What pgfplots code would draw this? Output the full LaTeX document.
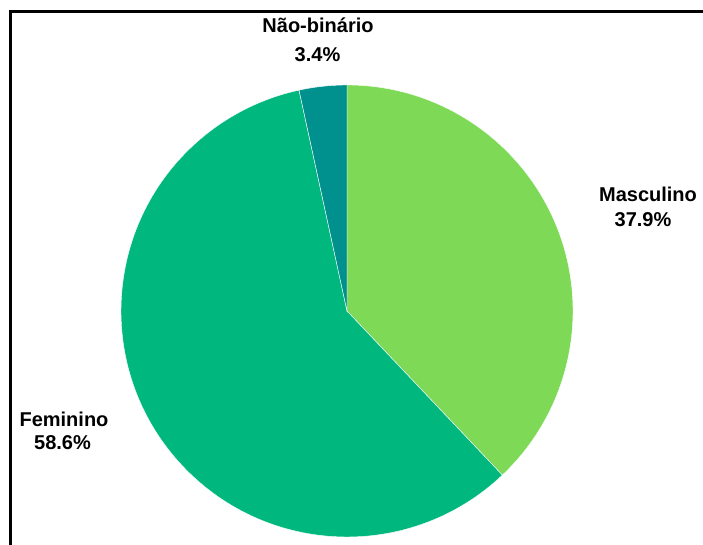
\documentclass[border=0pt]{standalone}
\usepackage{fontspec}
\setmainfont{Liberation Sans}
\usepackage{pgfplots}
\usepackage{pgfplotstable}
\pgfplotsset{compat=1.18}

\definecolor{masc}{HTML}{7ED957}
\definecolor{fem}{HTML}{00B87D}
\definecolor{nb}{HTML}{00918F}

% share of respondents, in percent (clockwise from 12 o'clock)
\pgfplotstableread[col sep=comma]{
label,value,color
Masculino,37.9,masc
Feminino,58.6,fem
Nao-binario,3.4,nb
}\piedata

\begin{document}
\begin{tikzpicture}
\begin{axis}[
  scale only axis,
  width=351.5pt, height=272.5pt,
  xmin=0, xmax=703, ymin=-545, ymax=0,
  axis line style={draw=none},
  ticks=none,
  clip=false,
]
  % frame (top and left edge only visible)
  \draw[line width=1.25pt] (axis cs:10.5,-546) -- (axis cs:10.5,-11.5) -- (axis cs:704,-11.5);

  % total of the slices
  \def\total{0}
  \pgfplotsforeachungrouped \i in {0,1,2}{%
    \pgfplotstablegetelem{\i}{value}\of\piedata
    \pgfmathsetmacro\total{\total+\pgfplotsretval}%
  }
  % wedges, centre (347,311) px, radius 226 px = 113pt
  \def\startang{90}
  \pgfplotsforeachungrouped \i in {0,1,2}{%
    \pgfplotstablegetelem{\i}{value}\of\piedata \let\v\pgfplotsretval
    \pgfplotstablegetelem{\i}{color}\of\piedata \let\c\pgfplotsretval
    \pgfmathsetmacro\endang{\startang-\v/\total*360}%
    \edef\temp{\noexpand\fill[fill=\c, draw=white, line width=0.2pt]
      (axis cs:347,-311) -- ++(\startang:113pt)
      arc[start angle=\startang, end angle=\endang, radius=113pt] -- cycle;}%
    \temp
    \global\let\startang\endang
  }

  \tikzset{lbl/.style={font=\bfseries\fontsize{10pt}{12pt}\selectfont, anchor=base, inner sep=0pt}}
  \node[lbl] at (axis cs:648,-202) {Masculino};
  \node[lbl] at (axis cs:643,-227) {37.9\%};
  \node[lbl] at (axis cs:64,-426.7) {Feminino};
  \node[lbl] at (axis cs:62.5,-450) {58.6\%};
  \node[lbl] at (axis cs:318,-32.7) {Não-binário};
  \node[lbl] at (axis cs:317.5,-62) {3.4\%};
\end{axis}
\pgfresetboundingbox
\path (current axis.south west) rectangle (current axis.north east);
\end{tikzpicture}
\end{document}
